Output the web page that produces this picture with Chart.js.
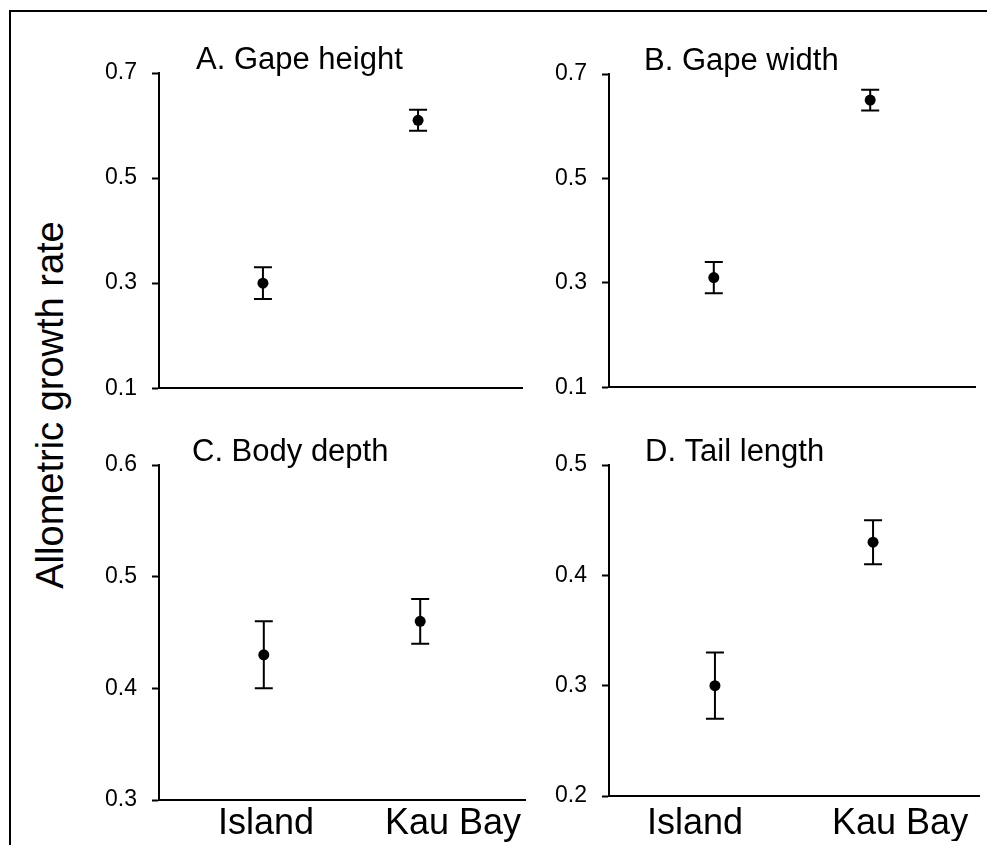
<!DOCTYPE html>
<html>
<head>
<meta charset="utf-8">
<script src="https://cdn.jsdelivr.net/npm/chart.js@4.4.1/dist/chart.umd.min.js"></script>
<style>
  html, body { margin: 0; padding: 0; background: #fff; }
  #fig { position: relative; width: 987px; height: 845px; overflow: hidden; background: #fff; }
  #frame { position: absolute; left: 9px; top: 10px; right: -10px; bottom: -10px;
           border-left: 2px solid #000; border-top: 2px solid #000; }
  #fig canvas { position: absolute; }
  #ytitle { position: absolute; left: 50px; top: 405px;
            transform: translate(-50%, -50%) rotate(-90deg);
            font-family: Arial, 'Liberation Sans', sans-serif; font-size: 38px;
            line-height: 38px; white-space: nowrap; color: #000; }
</style>
</head>
<body>
<div id="fig">
  <div id="frame"></div>
  <div id="ytitle">Allometric growth rate</div>
  <canvas id="panelA"></canvas>
  <canvas id="panelB"></canvas>
  <canvas id="panelC"></canvas>
  <canvas id="panelD"></canvas>
</div>
<script>
// Populations compared in every panel
const groups = ['Island', 'Kau Bay'];

// Panel titles
const titles = ['A. Gape height', 'B. Gape width', 'C. Body depth', 'D. Tail length'];

// Allometric growth rates (mean and error) per trait
const gapeHeightMean = [0.30, 0.61];
const gapeHeightErr  = [0.03, 0.02];
const gapeWidthMean  = [0.31, 0.65];
const gapeWidthErr   = [0.03, 0.02];
const bodyDepthMean  = [0.43, 0.46];
const bodyDepthErr   = [0.03, 0.02];
const tailLengthMean = [0.30, 0.43];
const tailLengthErr  = [0.03, 0.02];

// Y tick labels per panel
const yTicksA = [0.1, 0.3, 0.5, 0.7];
const yTicksB = [0.1, 0.3, 0.5, 0.7];
const yTicksC = [0.3, 0.4, 0.5, 0.6];
const yTicksD = [0.2, 0.3, 0.4, 0.5];

const FONT = "Arial, 'Liberation Sans', sans-serif";

// Vertical error bars with caps, drawn through the chart's own scales
const errorBarPlugin = {
  id: 'errorBars',
  beforeDatasetsDraw(chart, args, opts) {
    const { ctx, scales: { x, y } } = chart;
    ctx.save();
    ctx.strokeStyle = '#000';
    ctx.lineWidth = 2;
    opts.mean.forEach((m, i) => {
      const px = x.getPixelForValue(i + 1);
      const top = y.getPixelForValue(m + opts.err[i]);
      const bot = y.getPixelForValue(m - opts.err[i]);
      ctx.beginPath();
      ctx.moveTo(px, top); ctx.lineTo(px, bot);
      ctx.moveTo(px - opts.cap, top); ctx.lineTo(px + opts.cap, top);
      ctx.moveTo(px - opts.cap, bot); ctx.lineTo(px + opts.cap, bot);
      ctx.stroke();
    });
    ctx.restore();
  }
};

// Panel heading written just above the plot area
const panelTitlePlugin = {
  id: 'panelTitle',
  afterDraw(chart, args, opts) {
    const { ctx, chartArea } = chart;
    ctx.save();
    ctx.fillStyle = '#000';
    ctx.font = '31px ' + FONT;
    ctx.textAlign = 'left';
    ctx.textBaseline = 'alphabetic';
    ctx.fillText(opts.text, chartArea.left + opts.dx, chartArea.top - 4);
    ctx.restore();
  }
};

const panels = [
  { id: 'panelA', title: titles[0], mean: gapeHeightMean, err: gapeHeightErr, ticks: yTicksA,
    area: { l: 159, t: 73, r: 522, b: 402 }, titleDx: 37, labels: false, lab: { min: 0.33, max: 2.67, pad: 0 } },
  { id: 'panelB', title: titles[1], mean: gapeWidthMean, err: gapeWidthErr, ticks: yTicksB,
    area: { l: 609, t: 74, r: 975, b: 401 }, titleDx: 35, labels: false, lab: { min: 0.33, max: 2.67, pad: 0 } },
  { id: 'panelC', title: titles[2], mean: bodyDepthMean, err: bodyDepthErr, ticks: yTicksC,
    area: { l: 159, t: 465, r: 525, b: 800 }, titleDx: 33, labels: true, lab: { min: 0.428, max: 2.385, pad: 2 } },
  { id: 'panelD', title: titles[3], mean: tailLengthMean, err: tailLengthErr, ticks: yTicksD,
    area: { l: 609, t: 465, r: 979, b: 796 }, titleDx: 36, labels: true, lab: { min: 0.58, max: 2.385, pad: 6 } }
];

function makePanel(p) {
  const padTop = 40, padRight = 12, axisW = 80;
  const xH = p.labels ? 45 : 0;
  const padBottom = p.labels ? 0 : 15;
  const w = (p.area.r - p.area.l) + axisW + padRight;
  const h = padTop + (p.area.b - p.area.t) + xH + padBottom;
  const cv = document.getElementById(p.id);
  cv.width = w; cv.height = h;
  cv.style.width = w + 'px'; cv.style.height = h + 'px';
  cv.style.left = (p.area.l - axisW) + 'px';
  cv.style.top = (p.area.t - padTop) + 'px';

  new Chart(cv, {
    type: 'scatter',
    data: {
      datasets: [{
        data: groups.map((g, i) => ({ x: i + 1, y: p.mean[i] })),
        pointRadius: 5.5, pointHoverRadius: 5.5,
        pointBackgroundColor: '#000', pointBorderColor: '#000', pointBorderWidth: 0,
        showLine: false
      }]
    },
    options: {
      responsive: false, animation: false, events: [],
      layout: { padding: { top: padTop, right: padRight, bottom: padBottom, left: 0 } },
      plugins: {
        legend: { display: false }, tooltip: { enabled: false },
        errorBars: { mean: p.mean, err: p.err, cap: 9 },
        panelTitle: { text: p.title, dx: p.titleDx }
      },
      scales: {
        x: { type: 'linear', display: false, min: 0.33, max: 2.67 },
        xl: {
          type: 'linear', position: 'bottom', min: p.lab.min, max: p.lab.max,
          afterBuildTicks: s => { s.ticks = groups.map((g, i) => ({ value: i + 1 })); },
          afterFit: s => { s.height = xH; },
          grid: { display: false, drawTicks: false },
          border: { display: true, color: '#000', width: 2 },
          ticks: {
            display: p.labels, color: '#000', font: { family: FONT, size: 36 },
            padding: p.lab.pad, maxRotation: 0, autoSkip: false,
            callback: (v, i) => groups[i]
          }
        },
        y: {
          type: 'linear', min: p.ticks[0], max: p.ticks[p.ticks.length - 1],
          afterBuildTicks: s => { s.ticks = p.ticks.map(v => ({ value: v })); },
          afterFit: s => { s.width = axisW; },
          grid: { display: true, drawOnChartArea: false, drawTicks: true, tickLength: 7,
                  tickColor: '#000', tickWidth: 2 },
          border: { display: true, color: '#000', width: 2 },
          ticks: { color: '#000', font: { family: FONT, size: 23 }, padding: 15,
                   callback: v => v.toFixed(1) }
        }
      }
    },
    plugins: [errorBarPlugin, panelTitlePlugin]
  });
}

panels.forEach(makePanel);
</script>
</body>
</html>
